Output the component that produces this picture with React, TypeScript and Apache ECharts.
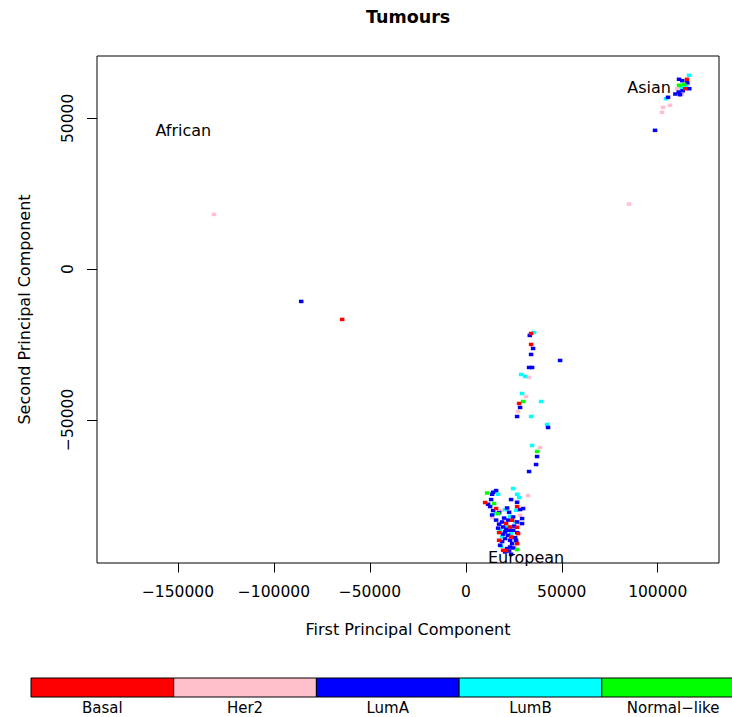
import React, { useEffect, useRef } from "react";
import * as echarts from "echarts";

// PCA of tumour genotypes, coloured by intrinsic subtype
const subtypes = ["Basal", "Her2", "LumA", "LumB", "Normal-like"];
const subtypeColors = ["#FF0000", "#FFC0CB", "#0000FF", "#00FFFF", "#00FF00"];

const basal: number[][] = [
  [115250, 62960], [114370, 59840], [-64430, -16690],
  [34010, -21340], [34010, -24990], [27760, -44570],
  [10050, -77430], [26720, -78760], [15780, -79420], [24110, -83310], [20990, -84400],
  [23070, -85530], [26720, -85630], [17340, -87390], [23590, -88850], [27240, -87720],
  [17340, -89950], [26720, -91040], [19430, -93260], [20990, -93360],
];

const her2: number[][] = [
  [-131250, 18150], [85050, 21570],
  [115800, 61170], [110200, 59840], [112660, 58080], [106410, 54330], [102760, 53670], [102240, 52010],
  [32970, -35940], [31410, -42250], [27240, -47230], [38700, -59180],
  [32450, -75110], [18390, -80090], [28280, -81650], [13700, -82410], [28280, -84400],
  [25160, -89380], [25680, -92170],
];

const lumA: number[][] = [
  [-85780, -10720],
  [111100, 62960], [112800, 62500], [115400, 61830], [116460, 59840], [113020, 59180],
  [110940, 58740], [109170, 58080], [111610, 57850], [105360, 56990], [98590, 46030],
  [33330, -22000], [35050, -26320], [34010, -28310], [49110, -30300], [32970, -32630],
  [34530, -32630], [28280, -45900], [26720, -48890], [42860, -52540], [37140, -62170],
  [36610, -64820], [32970, -67140],
  [15780, -73450], [14220, -74020], [13700, -74680], [23590, -76440], [13180, -76440],
  [26720, -77330], [11610, -78000], [12650, -78760], [29840, -79420], [21510, -79230],
  [14220, -80090], [28280, -79760], [17340, -80750], [13700, -81550], [22550, -80650],
  [29320, -82740], [24640, -82210], [18910, -83870], [26720, -83870], [19430, -85530],
  [29320, -84400], [24640, -86630], [20470, -87190], [26720, -87390], [22030, -88290],
  [25680, -89050], [20470, -89380], [18910, -90380], [24110, -91040], [17860, -91600],
  [22550, -93500], [23590, -94590], [23070, -92170], [21510, -92700],
  [19950, -82580], [22030, -83250], [17340, -84580], [25160, -85240], [20990, -86300],
  [23070, -89950], [16820, -85910], [19430, -87900], [26200, -89950], [22550, -86630],
  [15780, -83250], [24640, -92500], [20470, -93830],
];

const lumB: number[][] = [
  [116300, 64290], [112300, 60500], [114740, 60500], [112660, 59840], [104320, 56520],
  [35570, -21010], [28800, -34950], [30890, -35610], [29320, -41250], [39220, -43910],
  [34010, -48890], [42340, -51540], [34530, -58510],
  [24640, -72790], [16820, -74680], [26720, -74680], [27760, -75770], [20470, -79760],
  [26200, -79990], [15780, -81080], [23070, -81980], [25680, -83870], [21510, -85530],
  [17860, -86630], [23590, -87720], [18910, -88850], [18390, -91940],
];

const normalLike: number[][] = [
  [111100, 60970], [113700, 61300],
  [29840, -43910], [37140, -60500],
  [11090, -74250], [14740, -77760], [16820, -81080], [26720, -93030],
];

const groupPoints = [basal, her2, lumA, lumB, normalLike];
// order in which the groups are painted (later on top)
const paintOrder = [1, 3, 2, 4, 0];

// ancestry annotations
const regionNames = ["African", "Asian", "European"];
const regionX = [-147200, 95500, 31400];
const regionY = [46100, 60400, -95600];

const xTicks = [-150000, -100000, -50000, 0, 50000, 100000];
const yTicks = [-50000, 0, 50000];
const xRange = [-192190, 131930];
const yRange = [-97480, 70690];

const FONT = "DejaVu Sans";
const minus = (s: string) => s.replace(/-/g, "\u2212");

export default function App() {
  const ref = useRef<HTMLDivElement>(null);

  useEffect(() => {
    if (!ref.current) return;
    const chart = echarts.init(ref.current, null, { renderer: "svg" });

    const legendLeft = 31;
    const legendCell = 142.7;

    const option: any = {
      animation: false,
      backgroundColor: "#ffffff",
      textStyle: { fontFamily: FONT, color: "#000" },
      title: {
        text: "Tumours",
        left: 366,
        top: 8,
        padding: 0,
        textStyle: { fontFamily: FONT, fontSize: 17.5, fontWeight: "bold", color: "#000" },
      },
      grid: {
        left: 97,
        right: 13,
        top: 56,
        bottom: 154,
        show: true,
        borderColor: "#000",
        borderWidth: 1,
        backgroundColor: "transparent",
      },
      xAxis: {
        type: "value",
        min: xRange[0],
        max: xRange[1],
        axisLine: { show: false, onZero: false },
        axisTick: { show: true, length: 9.5, customValues: xTicks, lineStyle: { color: "#000", width: 1 } },
        axisLabel: {
          customValues: xTicks,
          formatter: (v: number) => minus(String(v)),
          margin: 21,
          fontSize: 15.5,
          fontFamily: FONT,
          color: "#000",
        },
        splitLine: { show: false },
        name: "First Principal Component",
        nameLocation: "middle",
        nameGap: 58,
        nameTextStyle: { fontSize: 16, fontFamily: FONT, color: "#000" },
      },
      yAxis: {
        type: "value",
        min: yRange[0],
        max: yRange[1],
        axisLine: { show: false, onZero: false },
        axisTick: { show: true, length: 10, customValues: yTicks, lineStyle: { color: "#000", width: 1 } },
        axisLabel: {
          customValues: yTicks,
          formatter: (v: number) => minus(String(v)),
          rotate: 90,
          margin: 21,
          fontSize: 15.5,
          fontFamily: FONT,
          color: "#000",
        },
        splitLine: { show: false },
        name: "Second Principal Component",
        nameLocation: "middle",
        nameGap: 65,
        nameTextStyle: { fontSize: 16, fontFamily: FONT, color: "#000" },
      },
      series: [
        ...paintOrder.map((i) => ({
          type: "scatter",
          name: subtypes[i],
          data: groupPoints[i],
          symbol: "rect",
          symbolSize: [4.5, 3.5],
          itemStyle: { color: subtypeColors[i], opacity: 1 },
          emphasis: { disabled: true },
          z: 2,
        })),
        {
          type: "scatter",
          name: "regions",
          data: regionNames.map((n, i) => [regionX[i], regionY[i], n]),
          symbolSize: 0,
          silent: true,
          z: 3,
          itemStyle: { opacity: 1 },
          label: {
            show: true,
            position: "inside",
            formatter: (p: any) => p.value[2],
            fontFamily: FONT,
            fontSize: 16,
            color: "#000",
            opacity: 1,
          },
        },
      ],
      graphic: subtypes.flatMap((name, i) => [
        {
          type: "rect",
          shape: { x: legendLeft + i * legendCell, y: 678, width: legendCell, height: 19 },
          style: { fill: subtypeColors[i], stroke: "#000", lineWidth: 1 },
        },
        {
          type: "text",
          x: legendLeft + i * legendCell + legendCell / 2,
          y: 708,
          style: {
            text: minus(name),
            fontFamily: FONT,
            fontSize: 15,
            fill: "#000",
            align: "center",
            verticalAlign: "middle",
            textAlign: "center",
            textVerticalAlign: "middle",
          },
        },
      ]),
    };

    chart.setOption(option);
    return () => chart.dispose();
  }, []);

  return (
    <div
      ref={ref}
      style={{ position: "fixed", left: 0, top: 0, width: 732, height: 717, background: "#fff" }}
    />
  );
}
